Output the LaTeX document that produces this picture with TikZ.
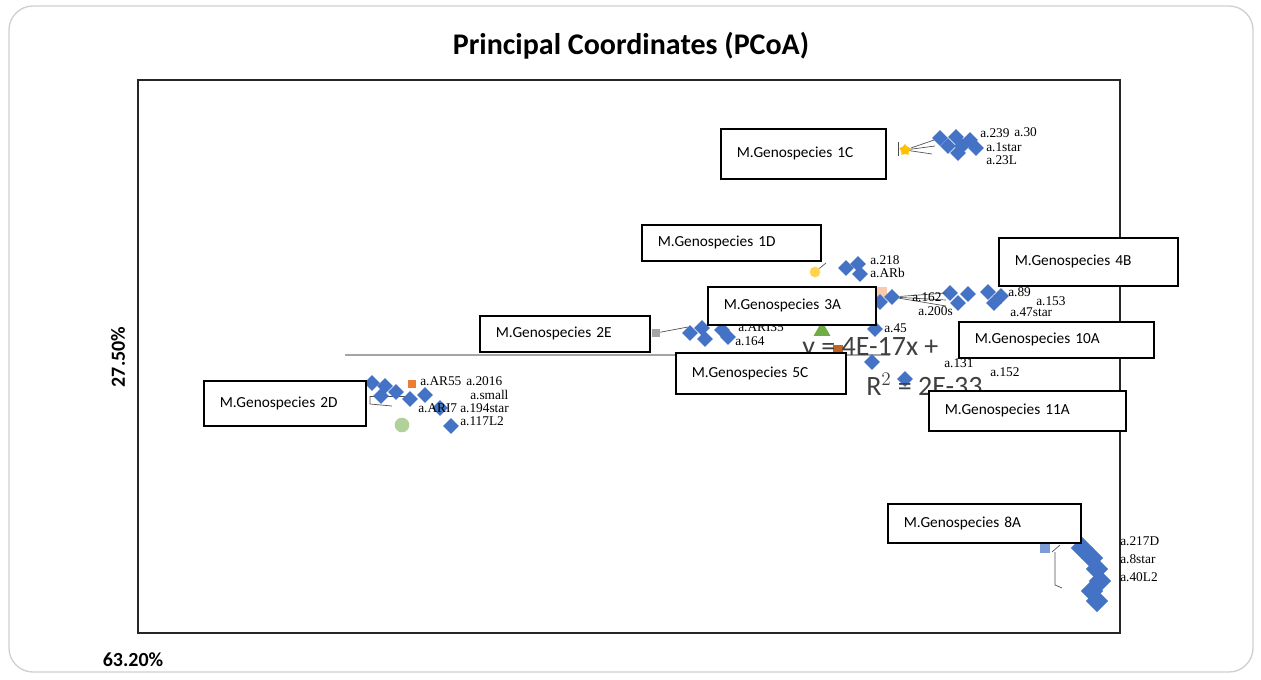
\documentclass[tikz,border=0pt]{standalone}
\usepackage{fontspec}
\setmainfont{Liberation Serif}
\newfontfamily\calib{Carlito}
\usetikzlibrary{shapes.geometric}

\definecolor{xlblue}{HTML}{4472C4}
\definecolor{xlorange}{HTML}{ED7D31}
\definecolor{xlgray}{HTML}{A5A5A5}
\definecolor{xlgold}{HTML}{FFC000}
\definecolor{xlgreen}{HTML}{70AD47}
\definecolor{framegray}{HTML}{D0D0D0}
\definecolor{eqgray}{HTML}{404040}

\tikzset{
  genobox/.style={draw, line width=1.2pt, fill=white, anchor=north west,
    inner xsep=12pt, inner ysep=0pt, align=left, text width=#1,
    font=\calib\fontsize{11.5}{13}\selectfont},
  pt/.style={diamond, fill=xlblue, inner sep=0pt, minimum size=12pt},
  bigpt/.style={diamond, fill=xlblue, inner sep=0pt, minimum size=17pt},
  ptlabel/.style={anchor=west, inner sep=0pt, font=\fontsize{10}{11}\selectfont},
  leader/.style={black!70, line width=0.5pt},
  eqtext/.style={anchor=west, inner sep=0pt, text=eqgray, font=\calib\fontsize{21}{23}\selectfont},
}

\begin{document}
\begin{tikzpicture}[x=0.75pt, y=-0.75pt]
    \useasboundingbox (0,0) rectangle (1261,679);
    \coordinate (F0) at (9,6);
    \coordinate (F1) at (1253,672);
    \coordinate (P0) at (138,80);
    \coordinate (P1) at (1120,633);
    \coordinate (T0) at (345,355);
    \coordinate (T1) at (890,355);

    \draw [framegray, line width=1pt, rounded corners=18pt] (F0) rectangle (F1);
    \node (title) at (631,46) {\calib\bfseries\fontsize{22.5}{25}\selectfont Principal Coordinates (PCoA)};
    \draw [black!85, line width=2.2pt] (P0) rectangle (P1);
    \node (ylab) [rotate=90] at (118,357) {\calib\bfseries\fontsize{15}{17}\selectfont 27.50\%};
    \node (xlab) at (133,660) {\calib\bfseries\fontsize{15}{17}\selectfont 63.20\%};
    \draw [xlgray, line width=1.2pt] (T0) -- (T1);

    % 1C
    \node [star, fill=xlgold, inner sep=0pt, minimum size=9pt] (s1C) at (905,150) {};
    \draw [leader] (s1C) -- (940,138);
    \draw [leader] (s1C) -- (935,146);
    \draw [leader] (s1C) -- (932,154);
    \draw [leader] (898,142) -- (898,156);
    \foreach \px/\py [count=\i] in {940/138, 948/146, 956/137, 962/146, 958/153, 970/140, 976/148}
        \node [pt] (m1C-\i) at (\px,\py) {};
    \node [ptlabel] (l239) at (980,133) {a.239};
    \node [ptlabel] (l30) at (1014,132) {a.30};
    \node [ptlabel] (l1st) at (986,147) {a.1star};
    \node [ptlabel] (l23L) at (986,160) {a.23L};

    % 1D
    \node [circle, fill=xlgold!70, inner sep=0pt, minimum size=8pt] (c1D) at (815,272) {};
    \draw [leader] (c1D) -- (826,263);
    \foreach \px/\py [count=\i] in {846/268, 858/264, 860/274}
        \node [pt] (m1D-\i) at (\px,\py) {};
    \node [ptlabel] (l218) at (870,260) {a.218};
    \node [ptlabel] (lARb) at (870,273) {a.ARb};

    % 3A / 4B
    \node [rectangle, fill=xlorange!40, inner sep=0pt, minimum size=8pt] (q3A) at (882,292) {};
    \foreach \px/\py [count=\i] in {880/302, 892/297, 950/293, 958/303, 968/294, 988/292, 994/303, 1001/296}
        \node [pt] (m3A-\i) at (\px,\py) {};
    \draw [leader] (m3A-2) -- (946,293);
    \draw [leader] (m3A-2) -- (946,300);
    \draw [leader] (m3A-2) -- (946,306);
    \node [ptlabel] (l162) at (912,297) {a.162};
    \node [ptlabel] (l200) at (918,311) {a.200s};
    \node [ptlabel] (l89) at (1008,292) {a.89};
    \node [ptlabel] (l153) at (1036,301) {a.153};
    \node [ptlabel] (l47) at (1010,312) {a.47star};

    % 2E
    \node [rectangle, fill=xlgray, inner sep=0pt, minimum size=6pt] (q2E) at (656,333) {};
    \draw [leader] (q2E) -- (688,327);
    \foreach \px/\py [count=\i] in {690/333, 702/328, 705/339, 722/330, 728/337}
        \node [pt] (m2E-\i) at (\px,\py) {};
    \node [ptlabel] (lAR35) at (738,327) {a.ARI35};
    \node [ptlabel] (l164) at (735,341) {a.164};

    % centre
    \node [isosceles triangle, isosceles triangle apex angle=60, shape border rotate=90, fill=xlgreen, inner sep=0pt, minimum size=11pt] (g5C) at (822,331) {};
    \node [rectangle, fill=xlorange!80!black, inner sep=0pt, minimum size=7pt] (q5C) at (838,350) {};
    \node [pt] (m5C-1) at (875,329) {};
    \node [pt] (m5C-2) at (872,362) {};
    \node [pt] (m11A-1) at (905,379) {};
    \node [ptlabel] (l45) at (884,328) {a.45};
    \node [ptlabel] (l131) at (944,363) {a.131};
    \node [ptlabel] (l152) at (990,372) {a.152};
    \node [eqtext] (eq1) at (802,349) {y = 4E-17x +};
    \node [eqtext] (eq2) at (866,384) {R$^2$ = 2E-33};

    % 2D
    \node [circle, fill=xlgreen!55, inner sep=0pt, minimum size=11pt] (c2D) at (402,425) {};
    \node [rectangle, fill=xlorange, inner sep=0pt, minimum size=6pt] (q2D) at (412,384) {};
    \draw [leader] (370,396) -- (410,396);
    \draw [leader] (370,396) -- (370,404) -- (392,406);
    \foreach \px/\py [count=\i] in {372/383, 385/386, 396/392, 381/396, 410/399, 425/395, 440/408, 451/426}
        \node [pt] (m2D-\i) at (\px,\py) {};
    \node [ptlabel] (lAR55) at (420,381) {a.AR55};
    \node [ptlabel] (l2016) at (466,381) {a.2016};
    \node [ptlabel] (lsm) at (470,395) {a.small};
    \node [ptlabel] (lAR17) at (418,408) {a.ARI7};
    \node [ptlabel] (l194) at (460,408) {a.194star};
    \node [ptlabel] (l117) at (460,421) {a.117L2};

    % 8A
    \node [rectangle, fill=xlblue!70, inner sep=0pt, minimum size=7pt] (q8A) at (1045,548) {};
    \draw [leader] (1055,552) -- (1055,585) -- (1062,588);
    \draw [leader] (1052,552) -- (1060,545);
    \foreach \px/\py [count=\i] in {1082/548, 1092/558, 1097/569, 1100/581, 1092/591, 1097/601}
        \node [bigpt] (m8A-\i) at (\px,\py) {};
    \node [ptlabel] (l217) at (1120,541) {a.217D};
    \node [ptlabel] (l8st) at (1120,559) {a.8star};
    \node [ptlabel] (l40) at (1120,577) {a.40L2};

    % label boxes
    \node [genobox=99.75pt, minimum height=37.5pt] (b1C) at (720,128) {M.Genospecies~1C};
    \node [genobox=110.25pt, minimum height=27pt] (b1D) at (641,224) {M.Genospecies~1D};
    \node [genobox=110.25pt, minimum height=36pt] (b4B) at (998,237) {M.Genospecies~4B};
    \node [genobox=102pt, minimum height=28.5pt] (b3A) at (707,286) {M.Genospecies~3A};
    \node [genobox=103.5pt, minimum height=27pt] (b2E) at (479,315) {M.Genospecies~2E};
    \node [genobox=122.25pt, minimum height=27pt] (b10A) at (958,321) {M.Genospecies~10A};
    \node [genobox=103.5pt, minimum height=30.75pt] (b5C) at (675,352) {M.Genospecies~5C};
    \node [genobox=123.75pt, minimum height=30pt] (b11A) at (928,390) {M.Genospecies~11A};
    \node [genobox=97.5pt, minimum height=33.75pt] (b2D) at (203,380) {M.Genospecies~2D};
    \node [genobox=120.75pt, minimum height=29.25pt] (b8A) at (887,503) {M.Genospecies~8A};
\end{tikzpicture}
\end{document}
